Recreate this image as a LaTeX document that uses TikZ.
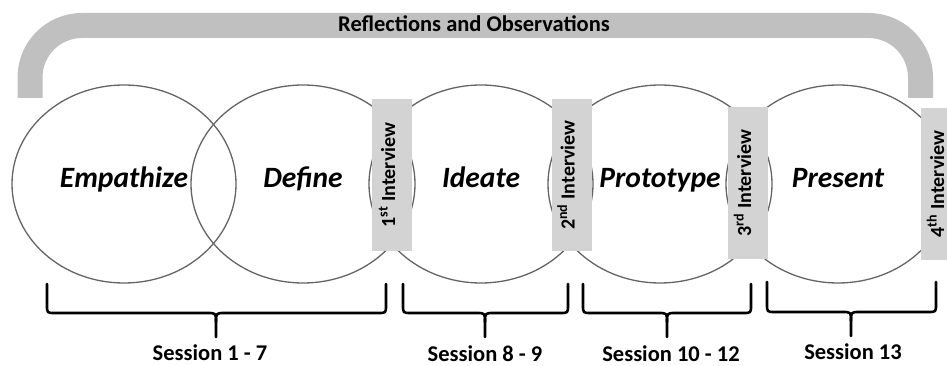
\documentclass[tikz,border=0pt]{standalone}
\usepackage{fontspec}
\setmainfont{Carlito}
\usetikzlibrary{shapes.geometric}
\definecolor{bandgray}{RGB}{192,192,192}
\definecolor{boxgray}{RGB}{211,211,211}
\definecolor{ringgray}{RGB}{100,100,100}
% brace under a group of phases: #1 left x, #2 tip x, #3 right x, #4 top y, #5 bar y, #6 tip y
\newcommand\sessionbrace[6]{%
  \draw[bracestyle] (#1,#4) -- (#1,#5+8) .. controls (#1,#5) .. (#1+8,#5)
    -- (#2-9,#5) .. controls (#2,#5) .. (#2,#5-9) -- (#2,#6);
  \draw[bracestyle] (#2,#5-9) .. controls (#2,#5) .. (#2+9,#5)
    -- (#3-8,#5) .. controls (#3,#5) .. (#3,#5+8) -- (#3,#4);
}
\begin{document}
\begin{tikzpicture}[x=1pt,y=1pt,
  band/.style={draw=bandgray, line width=25pt, rounded corners=52pt},
  phase/.style={ellipse, draw=ringgray, line width=1.3pt, minimum width=224pt,
    minimum height=198pt, inner sep=0pt, text height=0.64em, text depth=0pt,
    font=\fontsize{29.5}{34}\selectfont\bfseries\itshape},
  interview/.style={rectangle, fill=boxgray, rotate=90, minimum width=152pt,
    minimum height=40pt, inner sep=0pt, text height=0.64em, text depth=0pt,
    font=\fontsize{20}{24}\selectfont\bfseries},
  bracestyle/.style={draw=black, line width=2.6pt, line cap=round, line join=round},
  session/.style={inner sep=0pt, text height=0.64em, text depth=0pt,
    font=\fontsize{22.5}{26}\selectfont\bfseries},
  heading/.style={inner sep=0pt, text height=0.64em, text depth=0pt,
    font=\fontsize{22.5}{26}\selectfont\bfseries}]
\useasboundingbox (0,0) rectangle (947,366);

% feedback band over all phases
\coordinate (bandL) at (30,268);
\coordinate (bandR) at (920.5,268);
\draw[band] (bandL) -- (30,340.5) -- (920.5,340.5) -- (bandR);
\node[heading] (reflect) at (474,337.7) {Reflections and Observations};

% design thinking phases
\node[phase] (empathize) at (124,182) {Empathize};
\node[phase] (define)    at (303,182) {Define};
\node[phase] (ideate)    at (481,182) {Ideate};
\node[phase] (prototype) at (660,182) {Prototype};
\node[phase] (present)   at (838,182) {Present};

% interviews between phases
\node[interview] (int1) at (392,191)   {1\textsuperscript{st} Interview};
\node[interview] (int2) at (571.5,191) {2\textsuperscript{nd} Interview};
\node[interview] (int3) at (748,183)   {3\textsuperscript{rd} Interview};
\node[interview] (int4) at (941,182)   {4\textsuperscript{th} Interview};

% session ranges
\sessionbrace{47}{216}{386}{82}{53}{29}
\sessionbrace{403}{485}{568}{82}{53}{29}
\sessionbrace{583}{667}{751}{82}{53}{29}
\sessionbrace{767}{851}{936}{84}{54}{30}
\node[session] (s1) at (210,9)   {Session 1 - 7};
\node[session] (s2) at (485,8)   {Session 8 - 9};
\node[session] (s3) at (671,7.7) {Session 10 - 12};
\node[session] (s4) at (853,9.3) {Session 13};
\end{tikzpicture}
\end{document}
